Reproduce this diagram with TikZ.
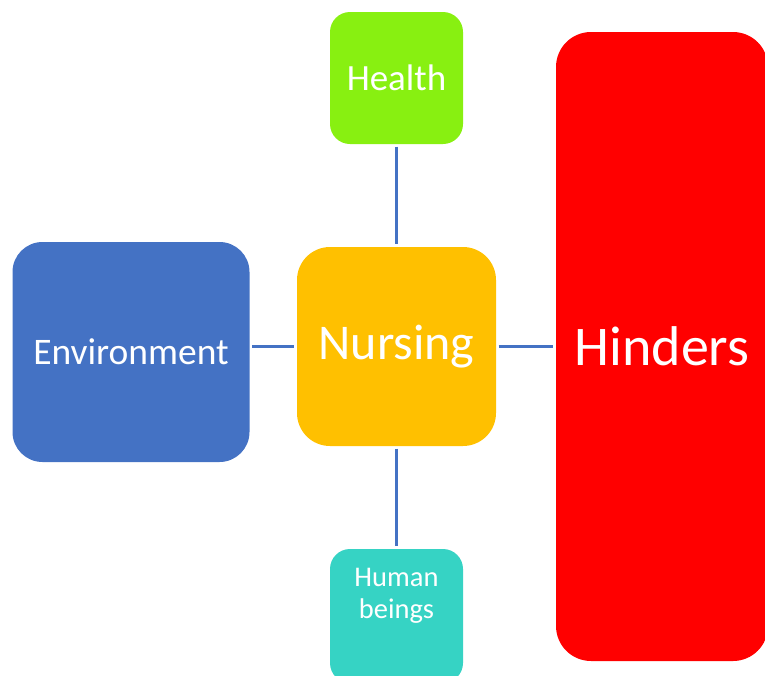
\documentclass[tikz,border=0pt]{standalone}
\usepackage{fontspec}
\setmainfont{Carlito}
\definecolor{healthgreen}{HTML}{88F011}
\definecolor{nursegold}{HTML}{FFC000}
\definecolor{envblue}{HTML}{4472C4}
\definecolor{humanteal}{HTML}{36D3C4}
\definecolor{hinderred}{HTML}{FF0000}
\definecolor{linkblue}{HTML}{4472C4}
\tikzset{
  box/.style={rectangle, inner sep=0pt, text=white, align=center},
  link/.style={draw=linkblue, line width=2.6pt, shorten <=2.5pt, shorten >=2.5pt}
}
\begin{document}
\begin{tikzpicture}[x=1pt,y=-1pt]
\useasboundingbox (0,0) rectangle (765,675);
\clip (0,0) rectangle (765,675);
% concept boxes
\node[box, fill=healthgreen, rounded corners=20pt, minimum width=133pt, minimum height=132pt,
      font=\fontsize{37}{44}\selectfont] (health) at (396.5,78) {Health};
\node[box, fill=nursegold, rounded corners=33pt, minimum width=199pt, minimum height=199pt,
      font=\fontsize{50}{58}\selectfont] (nursing) at (396.5,346.5) {Nursing};
\node[box, fill=envblue, rounded corners=30pt, minimum width=237pt, minimum height=220pt,
      font=\fontsize{37.5}{44}\selectfont] (env) at (131,352) {Environment};
\node[box, fill=humanteal, rounded corners=20pt, minimum width=133pt, minimum height=134pt] (human) at (396.5,616) {};
\node[text=white, align=center, font=\fontsize{28.5}{32}\selectfont, anchor=center] (humantext) at (396.5,596) {Human\\beings};
\node[box, fill=hinderred, rounded corners=35pt, minimum width=212pt, minimum height=629pt,
      font=\fontsize{56}{66}\selectfont] (hinders) at (662,346.5) {Hinders};
% connectors
\draw[link] (health.south) -- (nursing.north);
\draw[link] (nursing.south) -- (human.north);
\draw[link] (env.east |- nursing.west) -- (nursing.west);
\draw[link] (nursing.east) -- (hinders.west |- nursing.east);
\end{tikzpicture}
\end{document}
